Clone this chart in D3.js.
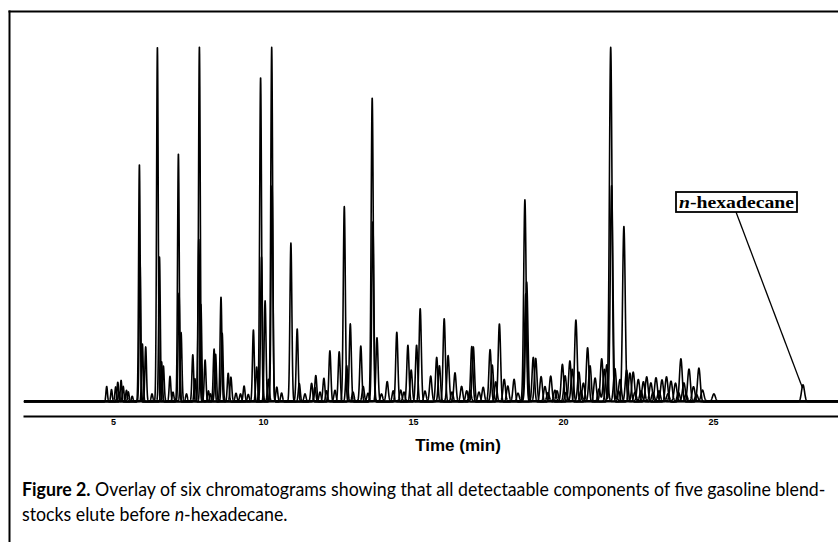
<!DOCTYPE html>
<html><head><meta charset="utf-8">
<script src="https://cdn.jsdelivr.net/npm/d3@7"></script>
<style>body{margin:0;background:#fff}svg{display:block}</style>
</head><body>
<svg id="c" width="838" height="542"></svg>
<script>
// ---- data (retention time in min, peak height in relative response units) ----
const tickValues = [5, 10, 15, 20, 25];
const xLabel = "Time (min)";
const seriesNames = ["Blendstock 1", "Blendstock 2", "Blendstock 3", "Blendstock 4", "Blendstock 5", "n-hexadecane"];
const peaks1 = [[4.79,4.3],[5.27,6.0],[5.88,66],[6.62,11.2],[7.18,69],[7.73,6.5],[8.37,14.7],[8.84,8],[9.68,20],[10.29,98.5],[10.62,2.5],[11.62,5.2],[12.23,14.2],[12.91,21.7],[13.64,84.5],[14.46,19.4],[15.12,15.8],[15.79,12.4],[16.4,8.1],[16.96,15.4],[17.88,21.7],[18.37,6.3],[19.01,12.4],[19.59,7.2],[20.23,11.4],[20.82,15.1],[21.59,98.5],[22.23,8],[22.79,7],[23.45,7],[23.93,12],[24.53,9.4]];
const peaks2 = [[4.95,3.3],[5.34,4.2],[5.98,16],[6.48,98.5],[6.9,7],[7.66,13],[8.07,11.5],[8.6,29],[9.37,4.3],[9.92,90],[10.46,4],[10.93,44],[11.76,7.2],[12.54,13.8],[13.26,15.4],[13.8,17.7],[14.83,15.6],[15.24,25.8],[16.04,23],[16.62,4.2],[17.57,14.4],[18.16,4.3],[18.73,56],[19.27,6.9],[19.98,10.3],[20.43,22.6],[21.07,6.5],[21.46,10.2],[22.03,48.6],[22.68,5.5],[23.3,6],[24.2,9]];
const peaks3 = [[5.09,3.9],[5.51,2.5],[6.09,15],[6.68,9.7],[7.27,19],[7.88,98.5],[8.42,13],[8.93,6.6],[9.79,9.4],[10.18,6],[11.14,20],[12.03,6.3],[12.71,54],[13.34,4],[14.14,5.4],[14.59,3],[15.59,6.9],[16.17,12.6],[17.01,15],[17.64,10],[18.04,6],[18.79,33],[19.4,4],[20.07,7],[20.53,8],[21.29,11.7],[21.73,9],[22.34,8],[22.93,5],[23.6,5.5],[24.03,5],[24.65,3]];
const peaks4 = [[5.16,5.4],[5.64,1.5],[5.9,40],[7.93,27],[8.18,3],[8.64,19],[9.51,2],[10.07,28],[10.3,60],[11.21,5],[11.73,4],[12.12,3],[12.79,10],[13.66,50],[14.34,3],[14.94,8.8],[15.88,10],[16.79,3],[17.34,4],[17.76,5.5],[18.76,30],[19.09,12],[19.5,2.5],[19.8,3],[20.1,2.5],[20.31,9],[20.6,3],[20.9,10],[21.2,3.5],[21.38,9],[21.62,60],[21.85,3],[22.12,8.8],[22.4,2.6],[22.6,3],[23.0,2.5],[23.2,3],[23.5,2.2],[23.85,2.5],[24.1,2],[24.45,2]];
const peaks5 = [[5.2,2.5],[5.45,3],[6.3,2],[6.55,40],[7.0,2.5],[7.2,30],[7.45,2],[7.86,45],[8.25,2],[9.1,2.2],[9.25,2],[9.95,40],[11.4,2],[11.9,2.5],[12.4,3],[13.0,2.5],[13.5,2.2],[13.95,2],[14.7,2.5],[15.4,2.8],[16.3,2.5],[16.9,3],[17.2,2.5],[18.5,2.2],[19.73,3],[20.68,5],[21.9,6],[22.51,6],[23.1,6.5],[23.75,5],[24.35,4],[25.03,2]];
const peaks6 = [[28.0,4.7]];
const baselineLevels = [0, 0.15, 0.3, 0.1, 0.25, 0.05];
const timeRange = [2.03, 29.2];
const captionBold = "Figure 2.";
const captionLine1 = " Overlay of six chromatograms showing that all detectaable components of five gasoline blend-";
const captionLine2a = "stocks elute before ";
const captionLine2b = "n";
const captionLine2c = "-hexadecane.";
const annotationItalic = "n";
const annotationText = "-hexadecane";

// ---- layout ----
const svg = d3.select("#c");
const x = d3.scaleLinear().domain([2, 29.2]).range([23, 839]);
const y = d3.scaleLinear().domain([0, 100]).range([402, 42]);

// frame
svg.append("line").attr("x1", 9.5).attr("x2", 9.5).attr("y1", 10.5).attr("y2", 542).attr("stroke", "#000").attr("stroke-width", 2);
svg.append("line").attr("x1", 8.5).attr("x2", 838).attr("y1", 11.5).attr("y2", 11.5).attr("stroke", "#000").attr("stroke-width", 2);

// build traces
const allPeaks = [peaks1, peaks2, peaks3, peaks4, peaks5, peaks6];
const step = 0.004;
const times = d3.range(timeRange[0], timeRange[1] + step / 2, step);
function trace(peaks, base) {
  return times.map(t => {
    let v = base;
    for (const [tp, h] of peaks) {
      const s = 0.02 + 0.0011 * tp;
      const z = (t - tp) / s;
      if (Math.abs(z) < 7) v += h * Math.exp(-0.5 * z * z);
    }
    return [t, v];
  });
}
const line = d3.line().x(d => x(d[0])).y(d => y(d[1]));
svg.append("g").selectAll("path").data(allPeaks.map((p, i) => ({ name: seriesNames[i], values: trace(p, baselineLevels[i]) })))
  .join("path")
  .attr("d", d => line(d.values))
  .attr("fill", "none").attr("stroke", "#000").attr("stroke-width", 1.6).attr("stroke-linejoin", "round");

// axis
const ax = svg.append("g").attr("transform", "translate(0,416)")
  .call(d3.axisBottom(x).tickValues(tickValues).tickSize(0).tickPadding(3));
ax.select(".domain").attr("stroke", "#000").attr("stroke-width", 2);
ax.selectAll("text").attr("font-family", "'Liberation Sans', Arial, sans-serif").attr("font-weight", "bold").attr("font-size", 9).attr("fill", "#000");

svg.append("text").attr("x", 458).attr("y", 451).attr("text-anchor", "middle")
  .attr("font-family", "'Liberation Sans', Arial, sans-serif").attr("font-weight", "bold").attr("font-size", 17)
  .text(xLabel);

// annotation
const hx = peaks6[0];
const boxX = 676, boxY = 192, boxW = 121, boxH = 20;
svg.append("line").attr("x1", 736).attr("y1", boxY + boxH).attr("x2", x(hx[0]) - 0.5).attr("y2", y(hx[1]) + 3)
  .attr("stroke", "#000").attr("stroke-width", 1.3);
svg.append("rect").attr("x", boxX).attr("y", boxY).attr("width", boxW).attr("height", boxH)
  .attr("fill", "#fff").attr("stroke", "#000").attr("stroke-width", 1.8);
const at = svg.append("text").attr("x", boxX + boxW / 2).attr("y", boxY + 15.5).attr("text-anchor", "middle")
  .attr("font-family", "'Liberation Serif', 'Times New Roman', serif").attr("font-weight", "bold").attr("font-size", 17)
  .attr("textLength", 115).attr("lengthAdjust", "spacingAndGlyphs");
at.append("tspan").attr("font-style", "italic").text(annotationItalic);
at.append("tspan").text(annotationText);

// caption (condensed by a common horizontal scaling)
const capFont = "Lato, 'Open Sans', sans-serif";
const capG = svg.append("g");
const c1 = capG.append("text").attr("x", 0).attr("y", 0).attr("font-family", capFont).attr("font-size", 19).attr("fill", "#000");
c1.append("tspan").attr("font-weight", "bold").text(captionBold);
c1.append("tspan").text(captionLine1);
const c2 = capG.append("text").attr("x", 0).attr("y", 25).attr("font-family", capFont).attr("font-size", 19).attr("fill", "#000");
c2.append("tspan").text(captionLine2a);
c2.append("tspan").attr("font-style", "italic").text(captionLine2b);
c2.append("tspan").text(captionLine2c);
capG.attr("transform", `translate(22,496) scale(${804 / c1.node().getComputedTextLength()},1)`);
</script>
</body></html>
